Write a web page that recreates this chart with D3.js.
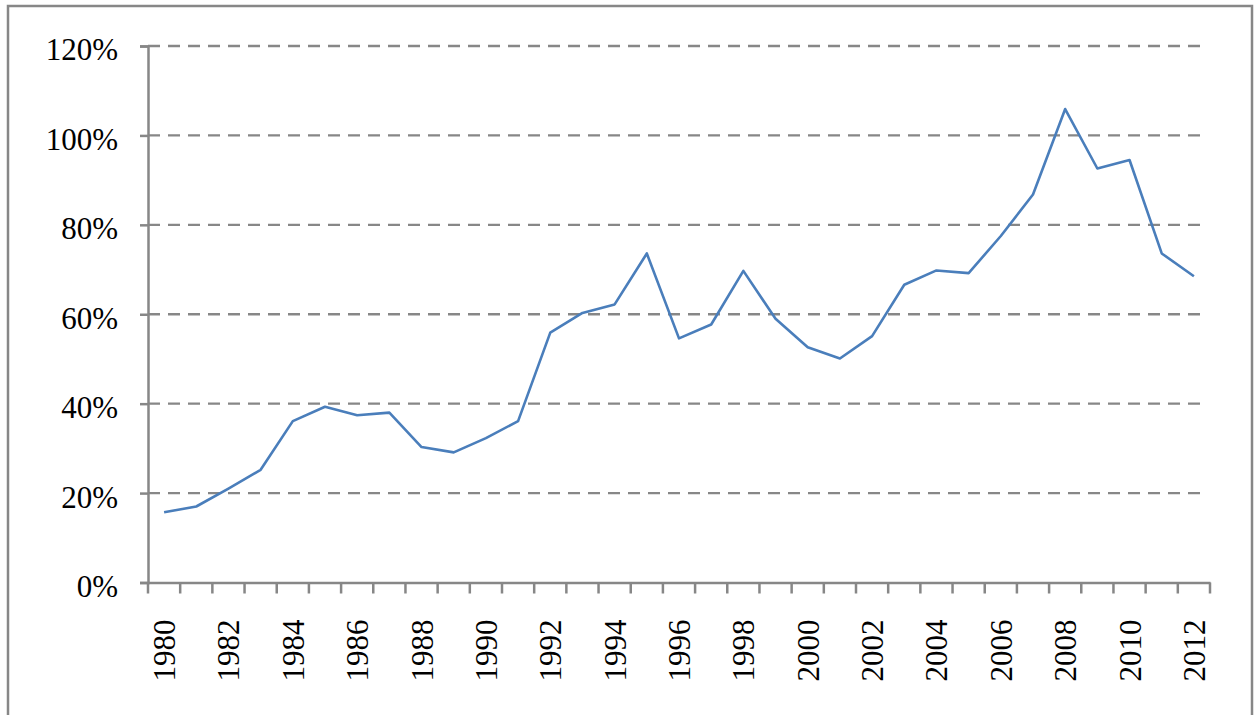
<!DOCTYPE html>
<html>
<head>
<meta charset="utf-8">
<script src="https://cdn.jsdelivr.net/npm/d3@7"></script>
<style>
  html, body { margin: 0; padding: 0; background: #fff; }
  svg { display: block; }
</style>
</head>
<body>
<script>
// years on the category axis
var years = d3.range(1980, 2013).map(String);

// share, in percent
var values = [15.7, 17.0, 21.0, 25.2, 36.1, 39.3, 37.4, 38.0, 30.3, 29.1,
    32.3, 36.1, 55.9, 60.3, 62.2, 73.6, 54.6, 57.7, 69.7, 59.0,
    52.6, 50.1, 55.1, 66.6, 69.8, 69.2, 77.5, 86.8, 105.9, 92.6,
    94.5, 73.6, 68.5];

var yTicks = [0, 20, 40, 60, 80, 100, 120];

var chartData = years.map(function (y, i) {
    return { year: y, value: values[i] };
});

var w = 1254;
var h = 715;
var gray = "#878787";
var font = "'Liberation Serif', 'Times New Roman', serif";

var svg = d3.select("body")
    .append("svg")
    .attr("width", w)
    .attr("height", h);

// outer frame
svg.append("rect")
    .attr("x", 8)
    .attr("y", 6)
    .attr("width", 1244)
    .attr("height", 720)
    .attr("fill", "#fff")
    .attr("stroke", gray)
    .attr("stroke-width", 2.5);

var xScale = d3.scaleBand()
    .domain(years)
    .range([148, 1210]);

var yScale = d3.scaleLinear()
    .domain([0, 120])
    .range([582.5, 46]);

// dashed gridlines
svg.selectAll(".grid")
    .data(yTicks.filter(function (d) { return d > 0; }))
    .enter()
    .append("line")
    .attr("class", "grid")
    .attr("x1", 148)
    .attr("x2", 1205)
    .attr("y1", function (d) { return yScale(d); })
    .attr("y2", function (d) { return yScale(d); })
    .attr("stroke", gray)
    .attr("stroke-width", 2.4)
    .attr("stroke-dasharray", "12,8");

// y axis
var yAxis = d3.axisLeft(yScale)
    .tickValues(yTicks)
    .tickSize(8)
    .tickPadding(22)
    .tickFormat(function (d) { return d + "%"; });

var gy = svg.append("g")
    .attr("transform", "translate(148,0)")
    .call(yAxis);

gy.select(".domain").attr("stroke", gray).attr("stroke-width", 2.5);
gy.selectAll(".tick line").attr("stroke", gray).attr("stroke-width", 2.5);
gy.selectAll(".tick text")
    .attr("font-family", font)
    .attr("font-size", 31)
    .attr("fill", "#000")
    .attr("dy", "0.45em");

// x axis: ticks between categories
var xAxis = d3.axisBottom(xScale)
    .tickSize(0)
    .tickFormat("");

var gx = svg.append("g")
    .attr("transform", "translate(0,582.5)")
    .call(xAxis);

gx.select(".domain").attr("stroke", gray).attr("stroke-width", 2.5);

var bounds = years.map(function (y) { return xScale(y); }).concat([xScale.range()[1]]);
gx.selectAll(".sep")
    .data(bounds)
    .enter()
    .append("line")
    .attr("class", "sep")
    .attr("x1", function (d) { return d; })
    .attr("x2", function (d) { return d; })
    .attr("y1", 0)
    .attr("y2", 11)
    .attr("stroke", gray)
    .attr("stroke-width", 2.5);

// year labels, every second year, rotated
gx.selectAll(".yl")
    .data(years.filter(function (d, i) { return i % 2 === 0; }))
    .enter()
    .append("text")
    .attr("class", "yl")
    .attr("text-anchor", "end")
    .attr("font-family", font)
    .attr("font-size", 31)
    .attr("fill", "#000")
    .attr("transform", function (d) {
        return "translate(" + (xScale(d) + xScale.bandwidth() / 2 + 11) + ",37) rotate(-90)";
    })
    .text(function (d) { return d; });

// data line
svg.append("path")
    .datum(chartData)
    .attr("fill", "none")
    .attr("stroke", "#4A7EBB")
    .attr("stroke-width", 2.6)
    .attr("stroke-linejoin", "round")
    .attr("d", d3.line()
        .x(function (d) { return xScale(d.year) + xScale.bandwidth() / 2; })
        .y(function (d) { return yScale(d.value); })
    );
</script>
</body>
</html>
